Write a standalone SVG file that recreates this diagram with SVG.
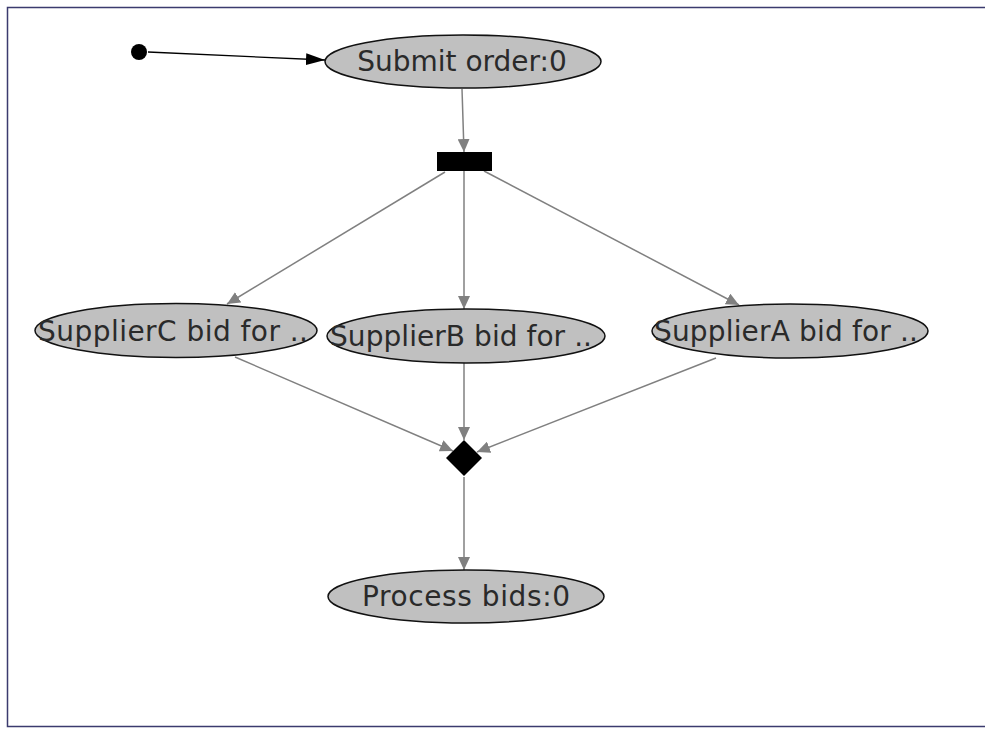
<svg xmlns="http://www.w3.org/2000/svg" width="985" height="729" viewBox="0 0 985 729">
<style>
.node ellipse{fill:#c0c0c0;stroke:#111;stroke-width:1.5}
.node text{font-family:"DejaVu Sans",sans-serif;font-size:28px;fill:#2a2a2a;text-anchor:middle}
.edge{stroke:#808080;stroke-width:1.5;fill:none;marker-end:url(#ga)}
</style>
<defs>
<marker id="ga" markerUnits="userSpaceOnUse" markerWidth="14" markerHeight="12" refX="13" refY="6" orient="auto"><path d="M0,0 L13,6 L0,12 Z" fill="#808080"/></marker>
<marker id="ba" markerUnits="userSpaceOnUse" markerWidth="20" markerHeight="12" refX="19" refY="6" orient="auto"><path d="M0,0 L19,6 L0,12 Z" fill="#000"/></marker>
</defs>
<rect x="0" y="0" width="985" height="729" fill="#fff"/>
<rect x="7.5" y="7.5" width="990" height="719" fill="#fff" stroke="#3b3b6e" stroke-width="1.5"/>
<g id="connectors">
<line x1="148" y1="52" x2="325" y2="60" stroke="#000" stroke-width="1.3" marker-end="url(#ba)"/>
<line class="edge" x1="462" y1="89" x2="464" y2="152"/>
<line class="edge" x1="445" y1="172" x2="227" y2="304"/>
<line class="edge" x1="464" y1="171" x2="464" y2="309"/>
<line class="edge" x1="484" y1="171" x2="739" y2="305"/>
<line class="edge" x1="235" y1="357" x2="453" y2="451"/>
<line class="edge" x1="464" y1="363" x2="464" y2="440"/>
<line class="edge" x1="716" y1="358" x2="477" y2="452"/>
<line class="edge" x1="464" y1="477" x2="464" y2="570"/>
</g>
<g id="start"><circle cx="139" cy="52" r="8" fill="#000"/></g>
<g id="submit" class="node"><ellipse cx="463" cy="61.5" rx="138" ry="26.5"/><text x="462" y="71">Submit order:0</text></g>
<g id="fork"><rect x="437" y="152" width="55" height="19" fill="#000"/></g>
<g id="supplierC" class="node"><ellipse cx="176" cy="330.5" rx="141" ry="27"/><text x="173" y="341" textLength="270" lengthAdjust="spacing">SupplierC bid for ..</text></g>
<g id="supplierB" class="node"><ellipse cx="466" cy="336" rx="139" ry="27"/><text x="461" y="346" textLength="262" lengthAdjust="spacing">SupplierB bid for ..</text></g>
<g id="supplierA" class="node"><ellipse cx="790" cy="331" rx="138" ry="27"/><text x="786" y="341" textLength="264" lengthAdjust="spacing">SupplierA bid for ..</text></g>
<g id="merge"><polygon points="464,440 482,458 464,476 446,458" fill="#000"/></g>
<g id="process" class="node"><ellipse cx="466" cy="596.5" rx="138" ry="26.5"/><text x="466" y="606" textLength="208" lengthAdjust="spacing">Process bids:0</text></g>
</svg>
